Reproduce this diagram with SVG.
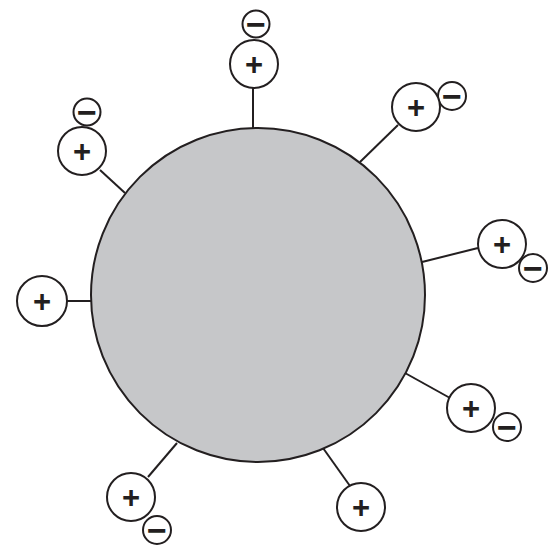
<svg xmlns="http://www.w3.org/2000/svg" width="556" height="549" viewBox="0 0 556 549">
<style>
.bg{fill:#ffffff}
.core{fill:#c6c7c9;stroke:#231f20;stroke-width:2}
.pc{fill:#ffffff;stroke:#231f20;stroke-width:2}
.mc{fill:#ffffff;stroke:#231f20;stroke-width:2}
.lk{stroke:#231f20;stroke-width:2;fill:none}
.sg{font-family:"Liberation Sans",Arial,sans-serif;font-weight:bold;fill:#231f20;text-anchor:middle;dominant-baseline:central}
.p{font-size:31px}
.m{font-size:34px}
</style>
<rect class="bg" x="0" y="0" width="556" height="549"/>
<g id="connectors">
<line class="lk" x1="253" y1="88" x2="253" y2="128"/>
<line class="lk" x1="100" y1="170" x2="125" y2="193"/>
<line class="lk" x1="398" y1="125" x2="360" y2="162"/>
<line class="lk" x1="478" y1="248" x2="422" y2="262"/>
<line class="lk" x1="67" y1="301" x2="91" y2="301"/>
<line class="lk" x1="450" y1="398" x2="405" y2="373"/>
<line class="lk" x1="148" y1="477" x2="177" y2="443"/>
<line class="lk" x1="350" y1="486" x2="323" y2="448"/>
</g>
<g id="particle"><circle class="core" cx="258" cy="295" r="167"/></g>
<g id="ion-top"><circle class="mc" cx="256" cy="24" r="13.5"/><text class="sg m" x="256" y="24">−</text><circle class="pc" cx="254" cy="64" r="24"/><text class="sg p" x="254" y="64">+</text></g>
<g id="ion-topleft"><circle class="mc" cx="87" cy="112" r="13.5"/><text class="sg m" x="87" y="112">−</text><circle class="pc" cx="82" cy="151" r="24"/><text class="sg p" x="82" y="151">+</text></g>
<g id="ion-topright"><circle class="mc" cx="452" cy="96" r="14"/><text class="sg m" x="452" y="96">−</text><circle class="pc" cx="416" cy="107" r="24"/><text class="sg p" x="416" y="107">+</text></g>
<g id="ion-right"><circle class="mc" cx="533" cy="268" r="14"/><text class="sg m" x="533" y="268">−</text><circle class="pc" cx="502" cy="244" r="24"/><text class="sg p" x="502" y="244">+</text></g>
<g id="ion-left"><circle class="pc" cx="42" cy="301" r="25"/><text class="sg p" x="42" y="301">+</text></g>
<g id="ion-bottomright"><circle class="mc" cx="507" cy="427" r="14"/><text class="sg m" x="507" y="427">−</text><circle class="pc" cx="471" cy="408" r="24"/><text class="sg p" x="471" y="408">+</text></g>
<g id="ion-bottomleft"><circle class="mc" cx="157" cy="530" r="14"/><text class="sg m" x="157" y="530">−</text><circle class="pc" cx="131" cy="497" r="24"/><text class="sg p" x="131" y="497">+</text></g>
<g id="ion-bottom"><circle class="pc" cx="361" cy="507" r="24"/><text class="sg p" x="361" y="507">+</text></g>
</svg>
